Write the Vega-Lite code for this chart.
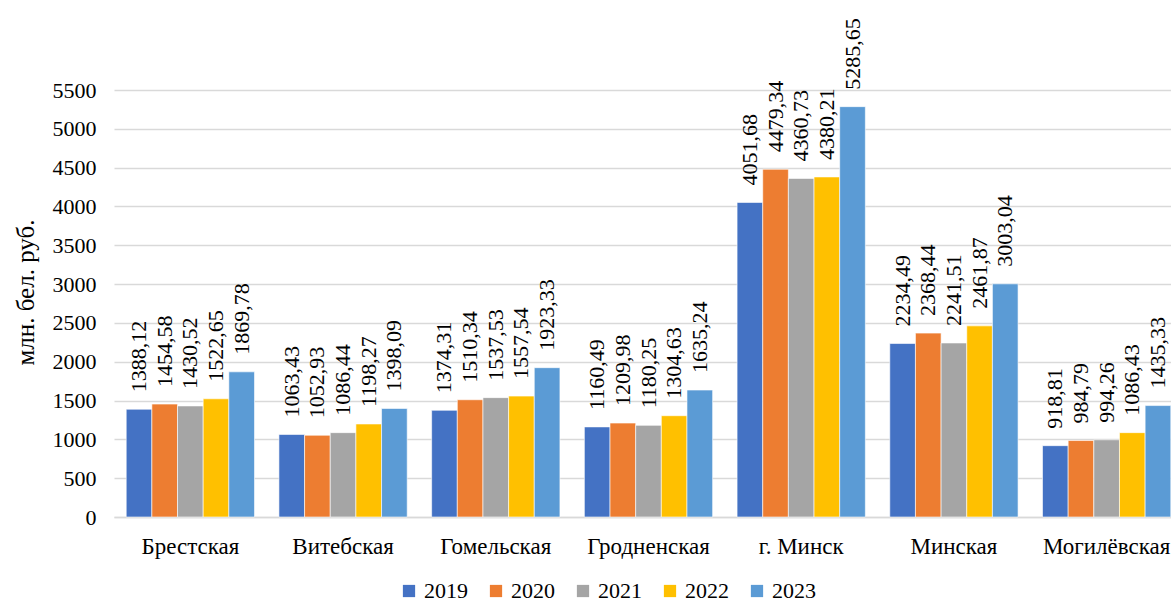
{
  "$schema": "https://vega.github.io/schema/vega-lite/v6.json",
  "width": 1069,
  "height": 427,
  "autosize": {"type": "none"},
  "padding": {"left": 114, "top": 90, "right": 0, "bottom": 85},
  "background": "white",
  "config": {
    "font": "Liberation Serif",
    "view": {"stroke": null},
    "axis": {"labelFont": "Liberation Serif", "titleFont": "Liberation Serif"},
    "legend": {"labelFont": "Liberation Serif"},
    "text": {"font": "Liberation Serif"},
    "locale": {"number": {"decimal": ",", "thousands": "", "grouping": [3], "currency": ["", ""]}}
  },
  "data": {
    "values": [
      {"region": "Брестская", "year": "2019", "value": 1388.12},
      {"region": "Брестская", "year": "2020", "value": 1454.58},
      {"region": "Брестская", "year": "2021", "value": 1430.52},
      {"region": "Брестская", "year": "2022", "value": 1522.65},
      {"region": "Брестская", "year": "2023", "value": 1869.78},
      {"region": "Витебская", "year": "2019", "value": 1063.43},
      {"region": "Витебская", "year": "2020", "value": 1052.93},
      {"region": "Витебская", "year": "2021", "value": 1086.44},
      {"region": "Витебская", "year": "2022", "value": 1198.27},
      {"region": "Витебская", "year": "2023", "value": 1398.09},
      {"region": "Гомельская", "year": "2019", "value": 1374.31},
      {"region": "Гомельская", "year": "2020", "value": 1510.34},
      {"region": "Гомельская", "year": "2021", "value": 1537.53},
      {"region": "Гомельская", "year": "2022", "value": 1557.54},
      {"region": "Гомельская", "year": "2023", "value": 1923.33},
      {"region": "Гродненская", "year": "2019", "value": 1160.49},
      {"region": "Гродненская", "year": "2020", "value": 1209.98},
      {"region": "Гродненская", "year": "2021", "value": 1180.25},
      {"region": "Гродненская", "year": "2022", "value": 1304.63},
      {"region": "Гродненская", "year": "2023", "value": 1635.24},
      {"region": "г. Минск", "year": "2019", "value": 4051.68},
      {"region": "г. Минск", "year": "2020", "value": 4479.34},
      {"region": "г. Минск", "year": "2021", "value": 4360.73},
      {"region": "г. Минск", "year": "2022", "value": 4380.21},
      {"region": "г. Минск", "year": "2023", "value": 5285.65},
      {"region": "Минская", "year": "2019", "value": 2234.49},
      {"region": "Минская", "year": "2020", "value": 2368.44},
      {"region": "Минская", "year": "2021", "value": 2241.51},
      {"region": "Минская", "year": "2022", "value": 2461.87},
      {"region": "Минская", "year": "2023", "value": 3003.04},
      {"region": "Могилёвская", "year": "2019", "value": 918.81},
      {"region": "Могилёвская", "year": "2020", "value": 984.79},
      {"region": "Могилёвская", "year": "2021", "value": 994.26},
      {"region": "Могилёвская", "year": "2022", "value": 1086.43},
      {"region": "Могилёвская", "year": "2023", "value": 1435.33}
    ]
  },
  "encoding": {
    "x": {
      "field": "region", "type": "nominal", "sort": null,
      "scale": {"paddingInner": 0.16, "paddingOuter": 0.08},
      "axis": {
        "title": null, "labelAngle": 0, "labelFontSize": 23, "labelColor": "#000000",
        "labelPadding": 18, "ticks": false, "domain": true, "domainColor": "#d9d9d9", "domainWidth": 1.3
      }
    },
    "xOffset": {"field": "year", "type": "nominal", "sort": null},
    "y": {
      "field": "value", "type": "quantitative",
      "scale": {"domain": [0, 5500], "nice": false},
      "axis": {
        "title": "млн. бел. руб.", "titleFontSize": 25, "titleFontWeight": "normal", "titleColor": "#000000",
        "titleX": -101, "titleY": 202, "titleBaseline": "top", "titleAngle": -90, "titleAlign": "center",
        "values": [0, 500, 1000, 1500, 2000, 2500, 3000, 3500, 4000, 4500, 5000, 5500],
        "format": "d", "labelFontSize": 22, "labelColor": "#000000", "labelPadding": 18,
        "ticks": false, "domain": false, "grid": true, "gridColor": "#d9d9d9", "gridWidth": 1.3
      }
    }
  },
  "layer": [
    {
      "mark": {"type": "bar", "stroke": "white", "strokeWidth": 0.6},
      "encoding": {
        "color": {
          "field": "year", "type": "nominal",
          "scale": {"domain": ["2019", "2020", "2021", "2022", "2023"], "range": ["#4472C4", "#ED7D31", "#A5A5A5", "#FFC000", "#5B9BD5"]},
          "legend": {
            "title": null, "orient": "none", "direction": "horizontal",
            "legendX": 284, "legendY": 490,
            "symbolType": "square", "symbolSize": 150, "symbolStrokeWidth": 0,
            "labelFontSize": 22, "labelColor": "#000000", "labelOffset": 4, "columnPadding": 17
          }
        }
      }
    },
    {
      "mark": {"type": "text", "angle": -90, "align": "left", "baseline": "middle", "dx": 17, "fontSize": 22, "color": "#000000"},
      "encoding": {
        "text": {"field": "value", "type": "quantitative", "format": ".2f"}
      }
    }
  ]
}
